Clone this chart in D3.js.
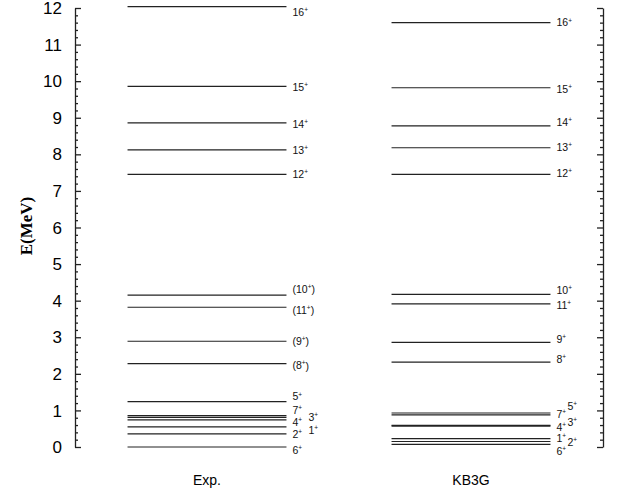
<!DOCTYPE html>
<html>
<head>
<meta charset="utf-8">
<script src="https://cdn.jsdelivr.net/npm/d3@7/dist/d3.min.js"></script>
<style>
  html, body { margin: 0; padding: 0; background: #fff; }
  svg { display: block; }
</style>
</head>
<body>
<svg id="chart" width="618" height="495"></svg>
<script>
// Level scheme: experimental levels vs. KB3G shell-model calculation
const columns = ["Exp.", "KB3G"];

const expSpins    = ["6+", "2+", "1+", "4+", "3+", "7+", "5+", "(8+)", "(9+)", "(11+)", "(10+)", "12+", "13+", "14+", "15+", "16+"];
const expEnergies = [0.00, 0.36, 0.55, 0.74, 0.81, 0.86, 1.24, 2.28, 2.89, 3.82, 4.15, 7.45, 8.12, 8.86, 9.86, 12.04];

const kb3gSpins    = ["6+", "2+", "1+", "4+", "3+", "7+", "5+", "8+", "9+", "11+", "10+", "12+", "13+", "14+", "15+", "16+"];
const kb3gEnergies = [0.07, 0.15, 0.23, 0.57, 0.59, 0.88, 0.93, 2.32, 2.86, 3.91, 4.17, 7.45, 8.18, 8.78, 9.82, 11.60];

const yTicks = [0, 1, 2, 3, 4, 5, 6, 7, 8, 9, 10, 11, 12];

// Label nudges [dx, dy] so crowded spin labels stay readable
const labelNudge = {
  "Exp.": {
    "16+": [0, 6], "15+": [0, 1], "14+": [0, 1], "13+": [0, 0], "12+": [0, 0],
    "(10+)": [0, -6], "(11+)": [0, 3], "(9+)": [0, 0], "(8+)": [0, 2],
    "5+": [0, -5], "7+": [0, -5], "3+": [16, 0], "4+": [0, 2],
    "1+": [16, 3], "2+": [0, 0], "6+": [0, 3]
  },
  "KB3G": {
    "16+": [0, 0], "15+": [0, 1], "14+": [0, -4], "13+": [0, -1], "12+": [0, -1],
    "10+": [0, -4], "11+": [0, 1], "9+": [0, -3], "8+": [0, -3],
    "7+": [0, -1], "5+": [11, -7], "4+": [0, 1], "3+": [11, -3],
    "1+": [0, 0], "2+": [11, 1], "6+": [0, 7]
  }
};

const levels = [
  { col: "Exp.", spins: expSpins, energies: expEnergies },
  { col: "KB3G", spins: kb3gSpins, energies: kb3gEnergies }
];

const sans = "'Liberation Sans', Arial, Helvetica, sans-serif";
const serif = "'Liberation Serif', 'Times New Roman', serif";

const svg = d3.select("#chart");
const x0 = 75, x1 = 603;

const y = d3.scaleLinear().domain([0, 12]).range([447, 8]);
const x = d3.scaleBand().domain(columns).range([x0, x1])
  .paddingInner(0.398).paddingOuter(0.199);

const ink = "#222";

const minorTicks = d3.range(0, 12.001, 0.2).filter(v => Math.abs(v - Math.round(v)) > 1e-6);

// Frame axes on both sides, ticks pointing inward
function drawAxis(xpos, dir) {
  const g = svg.append("g").attr("transform", `translate(${xpos},0)`);
  const make = () => (dir > 0 ? d3.axisRight(y) : d3.axisLeft(y));
  g.call(make().tickValues(yTicks).tickSize(6).tickSizeOuter(0).tickFormat(""));
  g.append("g").call(make().tickValues(minorTicks).tickSize(3).tickSizeOuter(0).tickFormat(""))
    .select(".domain").remove();
  g.selectAll("line").attr("stroke", ink).attr("stroke-width", 1.3);
  g.selectAll(".domain").attr("stroke", ink).attr("stroke-width", 1.3);
  return g;
}

drawAxis(x0, 1);
drawAxis(x1, -1);

// Tick numbers on the left axis
svg.append("g").selectAll("text").data(yTicks).join("text")
  .attr("x", 62).attr("y", d => y(d))
  .attr("dy", "0.36em")
  .attr("text-anchor", "end")
  .attr("font-family", sans)
  .attr("font-size", 17)
  .attr("fill", "#000")
  .text(d => d);

// Axis title
svg.append("text")
  .attr("transform", `translate(32,226) rotate(-90)`)
  .attr("text-anchor", "middle")
  .attr("font-family", serif)
  .attr("font-weight", "bold")
  .attr("font-size", 17)
  .text("E(MeV)");

// Column names under each level set
const xAxis = svg.append("g").attr("transform", "translate(0,480)")
  .call(d3.axisBottom(x).tickSize(0).tickPadding(0));
xAxis.select(".domain").remove();
xAxis.selectAll("text")
  .attr("font-family", sans)
  .attr("font-size", 14)
  .attr("fill", "#000")
  .attr("dy", "0.35em");

// Level lines and spin labels
levels.forEach(set => {
  const rows = set.spins.map((s, i) => ({ spin: s, e: set.energies[i] }));
  const g = svg.append("g");
  g.selectAll("line").data(rows).join("line")
    .attr("x1", x(set.col))
    .attr("x2", x(set.col) + x.bandwidth())
    .attr("y1", d => y(d.e))
    .attr("y2", d => y(d.e))
    .attr("stroke", ink)
    .attr("stroke-width", 1.2);

  const labels = g.selectAll("text").data(rows).join("text")
    .attr("x", d => x(set.col) + x.bandwidth() + 6 + (labelNudge[set.col][d.spin] || [0, 0])[0])
    .attr("y", d => y(d.e) + (labelNudge[set.col][d.spin] || [0, 0])[1])
    .attr("dy", "0.36em")
    .attr("font-family", sans)
    .attr("font-size", 10.5)
    .attr("fill", "#111");

  labels.each(function (d) {
    const t = d3.select(this);
    const m = d.spin.match(/^(\(?)(\d+)\+(\)?)$/);
    t.append("tspan").text(m[1] + m[2]);
    t.append("tspan").attr("font-size", 6.5).attr("dy", "-0.6em").text("+");
    if (m[3]) t.append("tspan").attr("dy", "0.4em").text(m[3]);
  });
});
</script>
</body>
</html>
